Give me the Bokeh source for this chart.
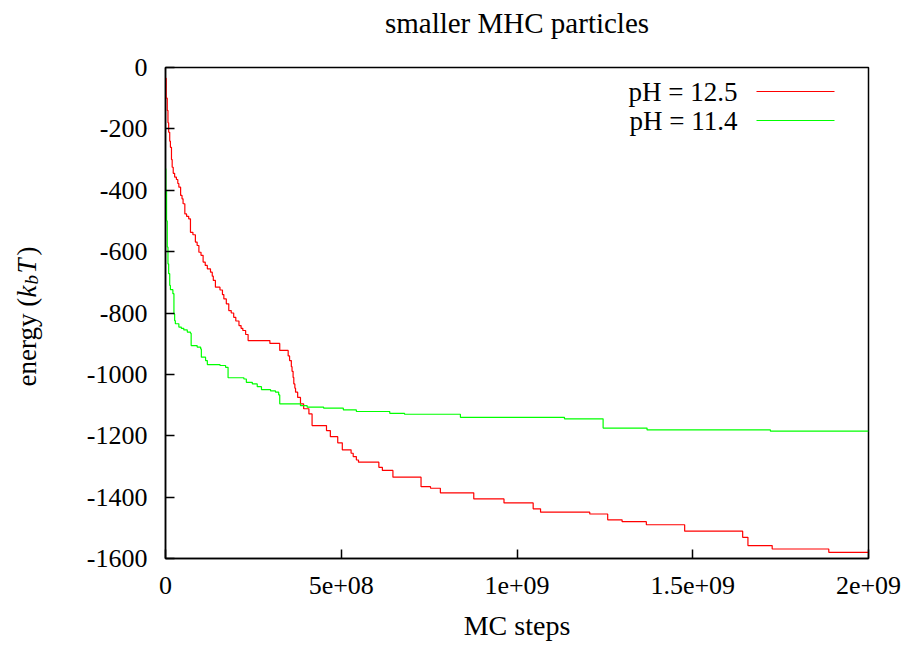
import numpy as np
from bokeh.plotting import figure
from bokeh.layouts import row
from bokeh.models import Label, Arrow, FixedTicker, Range1d
from bokeh.embed import file_html
from bokeh.resources import INLINE

# ---------------- data ----------------
title_text = "smaller MHC particles"
x_label_text = "MC steps"
series_labels = ["pH = 12.5", "pH = 11.4"]
series_colors = ["#ff0000", "#00ff00"]

# pH = 12.5 (red) : MC steps in millions, energy in kT
red_steps_millions = [0, 2, 5, 7, 9, 12, 14, 17, 19, 22, 26, 31, 35, 38, 43, 47, 50, 55, 60, 66,
                      71, 78, 85, 90, 95, 101, 107, 113, 119, 128, 133, 136, 142, 155, 162, 166,
                      173, 180, 187, 194, 200, 209, 215, 220, 228, 235, 297, 325, 349, 353, 358,
                      360, 363, 365, 368, 370, 376, 384, 393, 408, 417, 458, 469, 490, 503, 528,
                      534, 543, 549, 607, 617, 647, 727, 754, 782, 877, 963, 1046, 1067, 1207,
                      1258, 1299, 1368, 1477, 1642, 1657, 1726, 1887, 2000]
red_energy = [-35, -100, -140, -180, -211, -240, -260, -300, -325, -345, -357, -365, -378, -390,
              -417, -428, -444, -477, -485, -493, -537, -545, -569, -580, -602, -612, -634, -645,
              -656, -667, -680, -694, -716, -725, -740, -754, -770, -792, -800, -814, -826, -841,
              -850, -857, -870, -890, -899, -922, -940, -955, -975, -990, -1010, -1031, -1045,
              -1058, -1075, -1096, -1112, -1129, -1167, -1183, -1203, -1223, -1246, -1257, -1268,
              -1279, -1286, -1303, -1313, -1335, -1366, -1371, -1386, -1406, -1419, -1438, -1449,
              -1455, -1474, -1480, -1490, -1511, -1531, -1558, -1569, -1580, -1580]

# pH = 11.4 (green)
green_steps_millions = [0, 1, 3, 5, 7, 9, 12, 14, 21, 24, 26, 28, 38, 45, 52, 62, 71, 73, 90, 100,
                        102, 114, 119, 155, 171, 178, 223, 230, 247, 261, 273, 299, 313, 322, 325,
                        384, 403, 450, 506, 543, 638, 680, 839, 1135, 1245, 1370, 1721, 2000]
green_energy = [-330, -400, -500, -585, -640, -672, -710, -724, -737, -803, -825, -835, -846, -850,
                -855, -862, -866, -906, -911, -917, -944, -955, -968, -971, -977, -1011, -1015,
                -1026, -1031, -1040, -1050, -1054, -1058, -1067, -1096, -1102, -1107, -1110, -1116,
                -1121, -1127, -1130, -1140, -1145, -1175, -1181, -1185, -1185]

x_ticks = [0, 500000000, 1000000000, 1500000000, 2000000000]
x_tick_labels = ["0", "5e+08", "1e+09", "1.5e+09", "2e+09"]
y_ticks = [0, -200, -400, -600, -800, -1000, -1200, -1400, -1600]
y_tick_labels = ["0", "-200", "-400", "-600", "-800", "-1000", "-1200", "-1400", "-1600"]

# ---------------- layout sizes ----------------
FONT = "Liberation Serif"
H = 642
LW = 60                      # narrow strip holding the rotated y-axis title
W = 906 - LW                 # main figure
LEFT, RIGHT, TOP, BOTTOM = 165 - LW, 38, 67, 84
FW = W - LEFT - RIGHT
FH = H - TOP - BOTTOM

# ---------------- main figure ----------------
p = figure(width=W, height=H, output_backend="svg", toolbar_location=None,
           x_range=Range1d(0, 2e9), y_range=Range1d(-1600, 0),
           min_border_left=LEFT, min_border_right=RIGHT,
           min_border_top=TOP, min_border_bottom=BOTTOM)
p.title.text = ""

p.xgrid.visible = False
p.ygrid.visible = False
p.background_fill_color = "white"
p.border_fill_color = "white"
p.outline_line_color = "black"
p.outline_line_width = 1.5
p.outline_line_alpha = 1.0

for ax in (p.xaxis[0], p.yaxis[0]):
    ax.axis_line_color = "black"
    ax.axis_line_width = 1.5
    ax.major_tick_line_color = "black"
    ax.major_tick_line_width = 1.5
    ax.major_tick_in = 9
    ax.major_tick_out = 0
    ax.minor_tick_line_color = None
    ax.major_label_text_font = FONT
    ax.major_label_text_font_size = "26px"
    ax.major_label_text_color = "black"

p.xaxis.ticker = FixedTicker(ticks=x_ticks)
p.xaxis.major_label_overrides = {t: s for t, s in zip(x_ticks, x_tick_labels)}
p.xaxis.major_label_standoff = 18
p.yaxis.ticker = FixedTicker(ticks=y_ticks)
p.yaxis.major_label_overrides = {t: s for t, s in zip(y_ticks, y_tick_labels)}
p.yaxis.major_label_standoff = 18

# ---------------- series ----------------
red_x = np.array(red_steps_millions, dtype=float) * 1e6
green_x = np.array(green_steps_millions, dtype=float) * 1e6
p.step(red_x, red_energy, mode="after", line_color=series_colors[0], line_width=1.2)
p.step(green_x, green_energy, mode="after", line_color=series_colors[1], line_width=1.2)

# ---------------- legend (text left, sample line right) ----------------
legend_rows_y = [467, 438]
for lab, col, yb in zip(series_labels, series_colors, legend_rows_y):
    p.add_layout(Label(x=FW - 131, y=yb, x_units="screen", y_units="screen", text=lab,
                       text_align="right", text_baseline="middle",
                       text_font=FONT, text_font_size="27px", text_color="black"))
    p.add_layout(Arrow(x_start=FW - 112, y_start=yb, x_end=FW - 34, y_end=yb,
                       start_units="screen", end_units="screen", start=None, end=None,
                       line_color=col, line_width=1.2))

# ---------------- title and x-axis title (side panels, not clipped) ----------------
p.add_layout(Label(x=FW / 2, y=45, x_units="screen", y_units="screen", text=title_text,
                   text_align="center", text_baseline="alphabetic",
                   text_font=FONT, text_font_size="29px", text_color="black"), "above")
p.add_layout(Label(x=FW / 2, y=2, x_units="screen", y_units="screen", text=x_label_text,
                   text_align="center", text_baseline="alphabetic",
                   text_font=FONT, text_font_size="28px", text_color="black"), "below")

# ---------------- y-axis title strip: "energy (k_b T)" ----------------
q = figure(width=LW, height=H, output_backend="svg", toolbar_location=None, title=None,
           x_range=Range1d(0, 1), y_range=Range1d(0, 1),
           x_axis_location=None, y_axis_location=None, min_border=0)
q.xgrid.visible = False
q.ygrid.visible = False
q.outline_line_color = None
q.background_fill_color = "white"
q.border_fill_color = "white"

fs = 27
sub_fs = 19
# (text, style, size, shift toward the baseline side, position along the frame height)
pieces = [("energy (", "normal", fs, 0, 172),
          ("k", "italic", fs, 0, 261),
          ("b", "italic", sub_fs, 5, 274),
          ("T", "italic", fs, 0, 285),
          (")", "normal", fs, 0, 303)]
base_x = 26
for txt, style, size, drop, ypos in pieces:
    q.add_layout(Label(x=base_x + drop, y=ypos, x_units="screen", y_units="screen", text=txt,
                       angle=np.pi / 2, text_align="left", text_baseline="alphabetic",
                       text_font=FONT, text_font_style=style, text_font_size=f"{size}px",
                       text_color="black"))

layout = row(q, p)

with open("out.html", "w") as f:
    f.write(file_html(layout, INLINE))
